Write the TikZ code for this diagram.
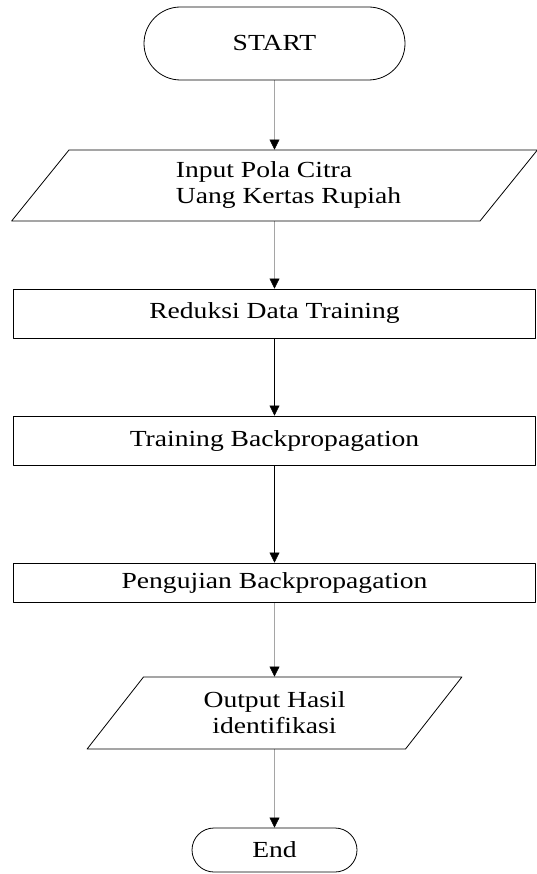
\documentclass[tikz,border=0pt]{standalone}
\usepackage{fontspec}
\setmainfont{Liberation Serif}[FakeStretch=1.2]
\usepackage{tikz}
\usetikzlibrary{arrows.meta}
\usetikzlibrary{shapes.misc}
\usetikzlibrary{shapes.geometric}

\begin{document}
\begin{tikzpicture}[line cap=round,line join=round,>={Triangle[width=10pt,length=10pt]},x=1pt,y=-1pt,
  every node/.style={font=\fontsize{23}{26}\selectfont},
  terminal/.style={draw,line width=0.8pt,rounded rectangle,inner sep=0pt},
  io/.style={draw,line width=0.8pt,trapezium,trapezium stretches=true,inner sep=2pt},
  proc/.style={draw,line width=0.8pt,rectangle,inner sep=0pt}]
\useasboundingbox (0,0) rectangle (536,874);
\node [terminal,minimum width=261pt,minimum height=73pt] (start) at (274.5,43.5) {START};
\node [io,align=left,trapezium left angle=54.8,trapezium right angle=125.2,minimum width=526pt,minimum height=71pt] (input) at (274.5,185.5) {\hspace*{28pt}Input Pola Citra\\\hspace*{28pt}Uang Kertas Rupiah};
\node [proc,minimum width=522pt,minimum height=49pt] (reduksi) at (274.5,313.5) {Reduksi Data Training};
\node [proc,minimum width=522pt,minimum height=49pt] (training) at (274.5,440.5) {Training Backpropagation};
\node [proc,minimum width=522pt,minimum height=39pt] (pengujian) at (274.5,582.5) {Pengujian Backpropagation};
\node [io,align=center,trapezium left angle=55.8,trapezium right angle=124.2,minimum width=375pt,minimum height=72pt] (output) at (274.5,713) {Output Hasil\\identifikasi};
\node [terminal,minimum width=165pt,minimum height=44pt] (end) at (274.5,850) {End};
\draw [->] (start) -- (input);
\draw [->] (input) -- (reduksi);
\draw [->] (reduksi) -- (training);
\draw [->] (training) -- (pengujian);
\draw [->] (pengujian) -- (output);
\draw [->] (output) -- (end);
\end{tikzpicture}
\end{document}
